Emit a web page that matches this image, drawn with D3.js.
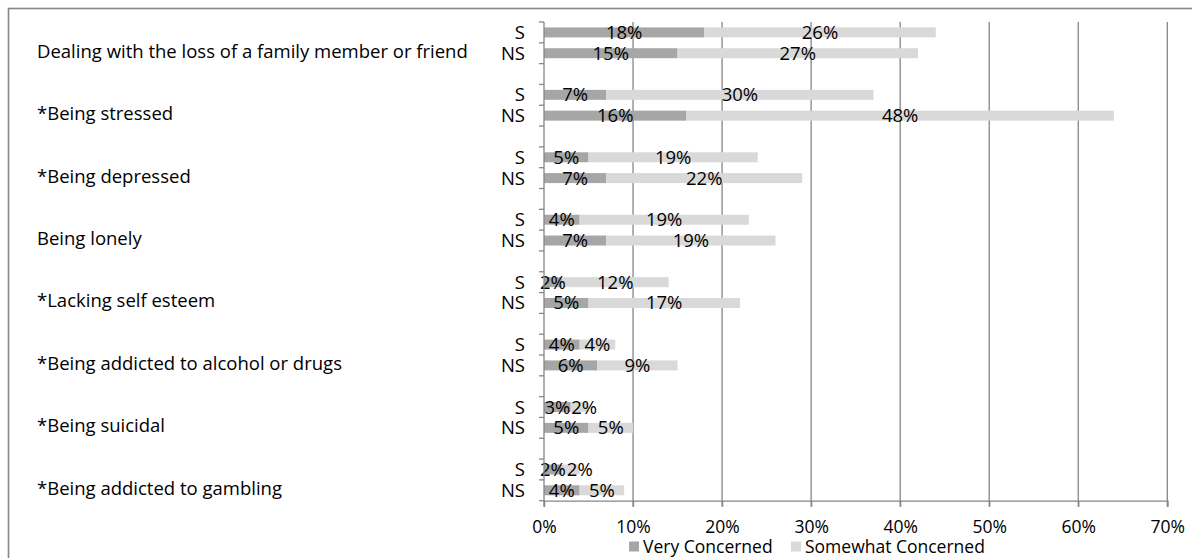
<!DOCTYPE html>
<html>
<head>
<meta charset="utf-8">
<script src="https://cdn.jsdelivr.net/npm/d3@7"></script>
<style>
  html, body { margin: 0; padding: 0; background: #fff; }
  svg { display: block; }
  text { font-family: "Open Sans", sans-serif; fill: #000; }
</style>
</head>
<body>
<svg id="chart" width="1192" height="558"></svg>
<script>
// Concern items, top to bottom
const groups = [
  "Dealing with the loss of a family member or friend",
  "*Being stressed",
  "*Being depressed",
  "Being lonely",
  "*Lacking self esteem",
  "*Being addicted to alcohol or drugs",
  "*Being suicidal",
  "*Being addicted to gambling"
];
const rowLabels = ["S", "NS"];

// Percent of respondents per item
const veryS       = [18, 7, 5, 4, 2, 4, 3, 2];
const somewhatS   = [26, 30, 19, 19, 12, 4, 2, 2];
const veryNS      = [15, 16, 7, 7, 5, 6, 5, 4];
const somewhatNS  = [27, 48, 22, 19, 17, 9, 5, 5];

const seriesNames = ["Very Concerned", "Somewhat Concerned"];
const xTicks = [0, 10, 20, 30, 40, 50, 60, 70];

const colors = { dark: "#a6a6a6", light: "#d9d9d9", grid: "#868686" };
const fontSize = 18.5;
const axisFontSize = 17.5;
const fontFamily = '"Open Sans", sans-serif';

const svg = d3.select("#chart");

// Outer frame
svg.append("rect")
  .attr("x", 8.5).attr("y", 8.5)
  .attr("width", 1300).attr("height", 700)
  .attr("fill", "none")
  .attr("stroke", colors.grid)
  .attr("stroke-width", 1.6);

const plot = { left: 544, right: 1167.3, top: 22, bottom: 500.7 };

// One slot per bar row plus a spacer slot between items
const slots = [];
groups.forEach((g, i) => {
  rowLabels.forEach(r => slots.push({ key: i + "-" + r, group: i, row: r }));
  if (i < groups.length - 1) slots.push({ key: i + "-gap", group: i, row: null });
});

const y = d3.scaleBand()
  .domain(slots.map(s => s.key))
  .range([plot.top, plot.bottom])
  .padding(0);

const x = d3.scaleLinear()
  .domain([0, 70])
  .range([plot.left, plot.right]);

// Vertical gridlines
svg.append("g")
  .selectAll("line")
  .data(xTicks.slice(1))
  .join("line")
  .attr("x1", d => x(d)).attr("x2", d => x(d))
  .attr("y1", plot.top).attr("y2", plot.bottom + 6)
  .attr("stroke", colors.grid)
  .attr("stroke-width", 1.3);

// Rows of bar data
const rows = [];
groups.forEach((g, i) => {
  rows.push({ key: i + "-S", label: "S", very: veryS[i], some: somewhatS[i] });
  rows.push({ key: i + "-NS", label: "NS", very: veryNS[i], some: somewhatNS[i] });
});

const barH = y.bandwidth() * 0.48;
const barY = d => y(d.key) + (y.bandwidth() - barH) / 2;

const bars = svg.append("g");
bars.selectAll("rect.very")
  .data(rows)
  .join("rect")
  .attr("class", "very")
  .attr("x", x(0))
  .attr("y", barY)
  .attr("width", d => x(d.very) - x(0))
  .attr("height", barH)
  .attr("fill", colors.dark);

bars.selectAll("rect.some")
  .data(rows)
  .join("rect")
  .attr("class", "some")
  .attr("x", d => x(d.very))
  .attr("y", barY)
  .attr("width", d => x(d.very + d.some) - x(d.very))
  .attr("height", barH)
  .attr("fill", colors.light);

// Value labels in the middle of each segment
const labels = svg.append("g")
  .attr("font-size", fontSize)
  .attr("text-anchor", "middle");
const vLabels = labels.selectAll("text.v")
  .data(rows)
  .join("text")
  .attr("class", "v")
  .attr("x", d => x(d.very / 2))
  .attr("y", d => y(d.key) + y.bandwidth() / 2)
  .attr("dy", "0.35em")
  .text(d => d.very + "%");
const sLabels = labels.selectAll("text.s")
  .data(rows)
  .join("text")
  .attr("class", "s")
  .attr("x", d => x(d.very + d.some / 2))
  .attr("y", d => y(d.key) + y.bandwidth() / 2)
  .attr("dy", "0.35em")
  .text(d => d.some + "%");

// On narrow bars, slide the second label right so the two sit side by side
const vNodes = vLabels.nodes();
sLabels.each(function(d, i) {
  const vw = vNodes[i].getComputedTextLength();
  const sw = this.getComputedTextLength();
  const vRight = x(d.very / 2) + vw / 2;
  const sLeft = x(d.very + d.some / 2) - sw / 2;
  if (sLeft < vRight + 1) {
    d3.select(this).attr("x", vRight + 1 + sw / 2);
  }
});

// Category axis: line, slot ticks, S / NS labels
const yAxis = svg.append("g");
yAxis.append("line")
  .attr("x1", plot.left).attr("x2", plot.left)
  .attr("y1", plot.top).attr("y2", plot.bottom + 6)
  .attr("stroke", colors.grid).attr("stroke-width", 1.3);

const boundaries = slots.map(s => y(s.key)).concat([plot.bottom]);
yAxis.selectAll("line.tick")
  .data(boundaries)
  .join("line")
  .attr("class", "tick")
  .attr("x1", plot.left - 5).attr("x2", plot.left)
  .attr("y1", d => d).attr("y2", d => d)
  .attr("stroke", colors.grid).attr("stroke-width", 1.3);

yAxis.selectAll("text.row")
  .data(rows)
  .join("text")
  .attr("class", "row")
  .attr("x", 525)
  .attr("y", d => y(d.key) + y.bandwidth() / 2)
  .attr("dy", "0.35em")
  .attr("text-anchor", "end")
  .attr("font-size", fontSize)
  .text(d => d.label);

// Item names, aligned with each item's NS row
yAxis.selectAll("text.group")
  .data(groups)
  .join("text")
  .attr("class", "group")
  .attr("x", 37)
  .attr("y", (d, i) => y(i + "-NS") + y.bandwidth() / 2 - 2)
  .attr("dy", "0.35em")
  .attr("font-size", fontSize)
  .text(d => d);

// Value axis along the bottom
const xAxis = d3.axisBottom(x)
  .tickValues(xTicks)
  .tickFormat(d => d + "%")
  .tickSize(6)
  .tickPadding(13.5);

const xg = svg.append("g")
  .attr("transform", `translate(0,${plot.bottom})`)
  .call(xAxis);
xg.select(".domain").attr("stroke", colors.grid).attr("stroke-width", 1.3);
xg.selectAll(".tick line").attr("stroke", colors.grid).attr("stroke-width", 1.3);
xg.selectAll(".tick text")
  .attr("font-size", axisFontSize)
  .attr("font-family", fontFamily)
  .attr("fill", "#000");

// Legend
const legendItems = [
  { name: seriesNames[0], color: colors.dark, x: 629 },
  { name: seriesNames[1], color: colors.light, x: 791 }
];
const legend = svg.append("g");
const li = legend.selectAll("g")
  .data(legendItems)
  .join("g")
  .attr("transform", d => `translate(${d.x},541.5)`);
li.append("rect")
  .attr("width", 10).attr("height", 10)
  .attr("fill", d => d.color);
li.append("text")
  .attr("x", 14)
  .attr("y", 5)
  .attr("dy", "0.35em")
  .attr("font-size", axisFontSize)
  .text(d => d.name);
</script>
</body>
</html>
